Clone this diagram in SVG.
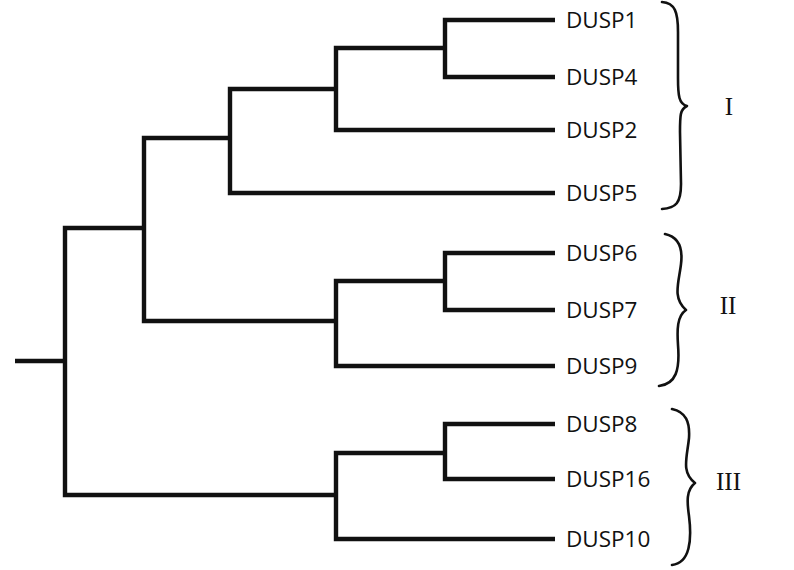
<svg xmlns="http://www.w3.org/2000/svg" width="794" height="570" viewBox="0 0 794 570">
<style>
.br{fill:none;stroke:#111;stroke-width:4.4;stroke-linejoin:miter;stroke-linecap:butt}
.lbl{font-family:"Open Sans","Noto Sans",sans-serif;font-size:22.5px;fill:#111}
.rom{font-family:"Liberation Serif","Times New Roman",serif;font-size:25px;fill:#111;text-anchor:middle}
.brace{fill:none;stroke:#111;stroke-width:2.6;stroke-linecap:round;stroke-linejoin:round}
</style>
<rect width="794" height="570" fill="#fff"/>
<g id="connectors">
<path class="br" d="M555,20 H445 V77 H555"/>
<path class="br" d="M445,48 H336 V130 H555"/>
<path class="br" d="M336,89 H230 V193 H555"/>
<path class="br" d="M555,253 H445 V310 H555"/>
<path class="br" d="M445,281 H336 V366 H555"/>
<path class="br" d="M230,138 H144 V321 H336"/>
<path class="br" d="M555,424 H445 V479 H555"/>
<path class="br" d="M445,453 H336 V539 H555"/>
<path class="br" d="M144,228 H65 V495 H336"/>
<path class="br" d="M15,361 H65"/>
</g>
<g id="DUSP1"><text class="lbl" x="566" y="28">DUSP1</text></g>
<g id="DUSP4"><text class="lbl" x="566" y="85">DUSP4</text></g>
<g id="DUSP2"><text class="lbl" x="566" y="138">DUSP2</text></g>
<g id="DUSP5"><text class="lbl" x="566" y="201">DUSP5</text></g>
<g id="DUSP6"><text class="lbl" x="566" y="261">DUSP6</text></g>
<g id="DUSP7"><text class="lbl" x="566" y="318">DUSP7</text></g>
<g id="DUSP9"><text class="lbl" x="566" y="374">DUSP9</text></g>
<g id="DUSP8"><text class="lbl" x="566" y="432">DUSP8</text></g>
<g id="DUSP16"><text class="lbl" x="566" y="487">DUSP16</text></g>
<g id="DUSP10"><text class="lbl" x="566" y="547">DUSP10</text></g>
<g id="groupI">
<path class="brace" d="M662,2 C675,3 678,12 678,32 L678,78 C678,96 679,104 687,106 C680,109 680,116 680,132 L681,184 C681,203 676,208 662,209"/>
<text class="rom" x="729" y="115">I</text>
</g>
<g id="groupII">
<path class="brace" d="M665,234 C679,237 683,248 681,264 C679,282 672,298 686,310 C677,316 677,330 678,345 C680,370 676,384 659,386"/>
<text class="rom" x="728" y="314">II</text>
</g>
<g id="groupIII">
<path class="brace" d="M672,409 C686,412 690,422 689,438 C687,458 681,472 695,483 C686,490 687,502 689,516 C692,540 690,563 672,565"/>
<text class="rom" x="728.5" y="490">III</text>
</g>
</svg>
